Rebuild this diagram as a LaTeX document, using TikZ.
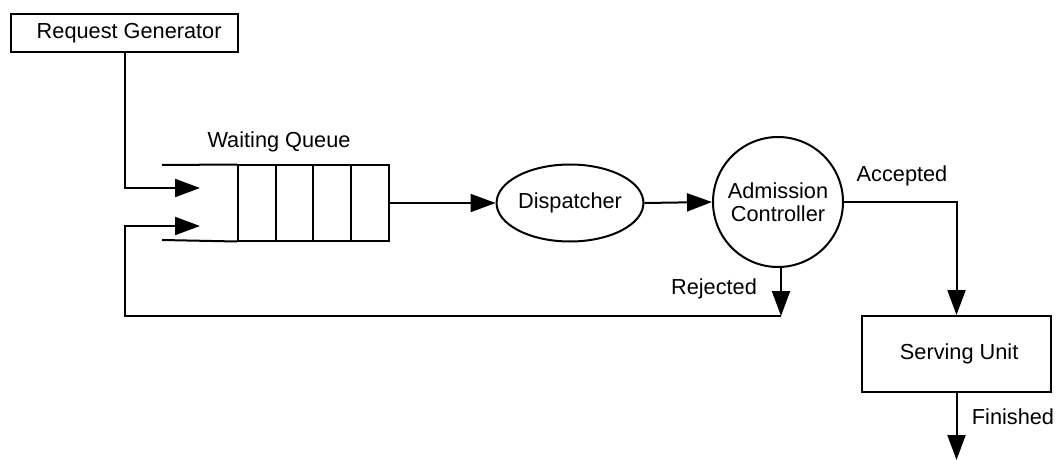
\documentclass[tikz,border=0pt]{standalone}
\usepackage{fontspec}
\setmainfont{Liberation Sans}
\usetikzlibrary{arrows.meta,shapes.geometric}
\begin{document}
\begin{tikzpicture}[x=0.75pt,y=-0.75pt,
  every node/.style={font=\fontsize{16.3}{19.5}\selectfont},
  ln/.style={line width=1.5pt},
  tipst/.style={-{Triangle[length=18.75pt,width=13.5pt]}},
  arr/.style={ln,tipst},
  boxnode/.style={draw,ln,rectangle,inner sep=0pt},
  lbl/.style={inner sep=0pt}]
\useasboundingbox (0,0) rectangle (1058,460);
% nodes
\node[boxnode,minimum width=170.25pt,minimum height=28.5pt] (rg) at (124.5,33) {\hspace*{7pt}Request Generator};
\node[draw,ln,rectangle,inner sep=0pt,minimum width=113.25pt,minimum height=56.25pt] (q) at (313.5,203) {};
\draw[ln] (276,165) -- (276,240) (313,165) -- (313,240) (351,165) -- (351,240);
\coordinate (qtl) at (162,165);
\coordinate (qbl) at (162,240);
\draw[ln] (qtl) -- (q.north west);
\draw[ln] (qbl) -- (q.south west);
\node[lbl] (wq) at (279,142) {Waiting Queue};
\node[draw,ln,ellipse,inner sep=0pt,minimum width=101.25pt,minimum height=57.75pt] (disp) at (570,203) {Dispatcher};
\node[draw,ln,circle,inner sep=0pt,minimum size=97.5pt,align=center] (ac) at (778,202) {Admission\\[-2pt]Controller};
\node[boxnode,minimum width=141.75pt,minimum height=57pt] (su) at (956.5,354) {\hspace*{4pt}Serving Unit};
% coordinates
\coordinate (qin1) at (200,188);
\coordinate (qin2) at (200,226);
\coordinate (fbc) at (125,226);
\coordinate (rej) at (781,316);
\coordinate (fin) at (956.5,460);
% connectors
\draw[arr] (rg.south) |- (qin1);
\draw[arr] (ac.south -| rej) -- (rej);
\draw[arr] (rej) -| (fbc) -- (qin2);
\draw[arr] (q.east) -- (disp.west);
\draw[arr] (disp.east) -- (ac.west);
\draw[arr] (ac.east) -| (su.north);
\draw[arr] (su.south) -- (fin);
% labels
\node[lbl] (lrej) at (714,289) {Rejected};
\node[lbl] (lacc) at (902,176) {Accepted};
\node[lbl] (lfin) at (1013,417) {Finished};
\end{tikzpicture}
\end{document}
